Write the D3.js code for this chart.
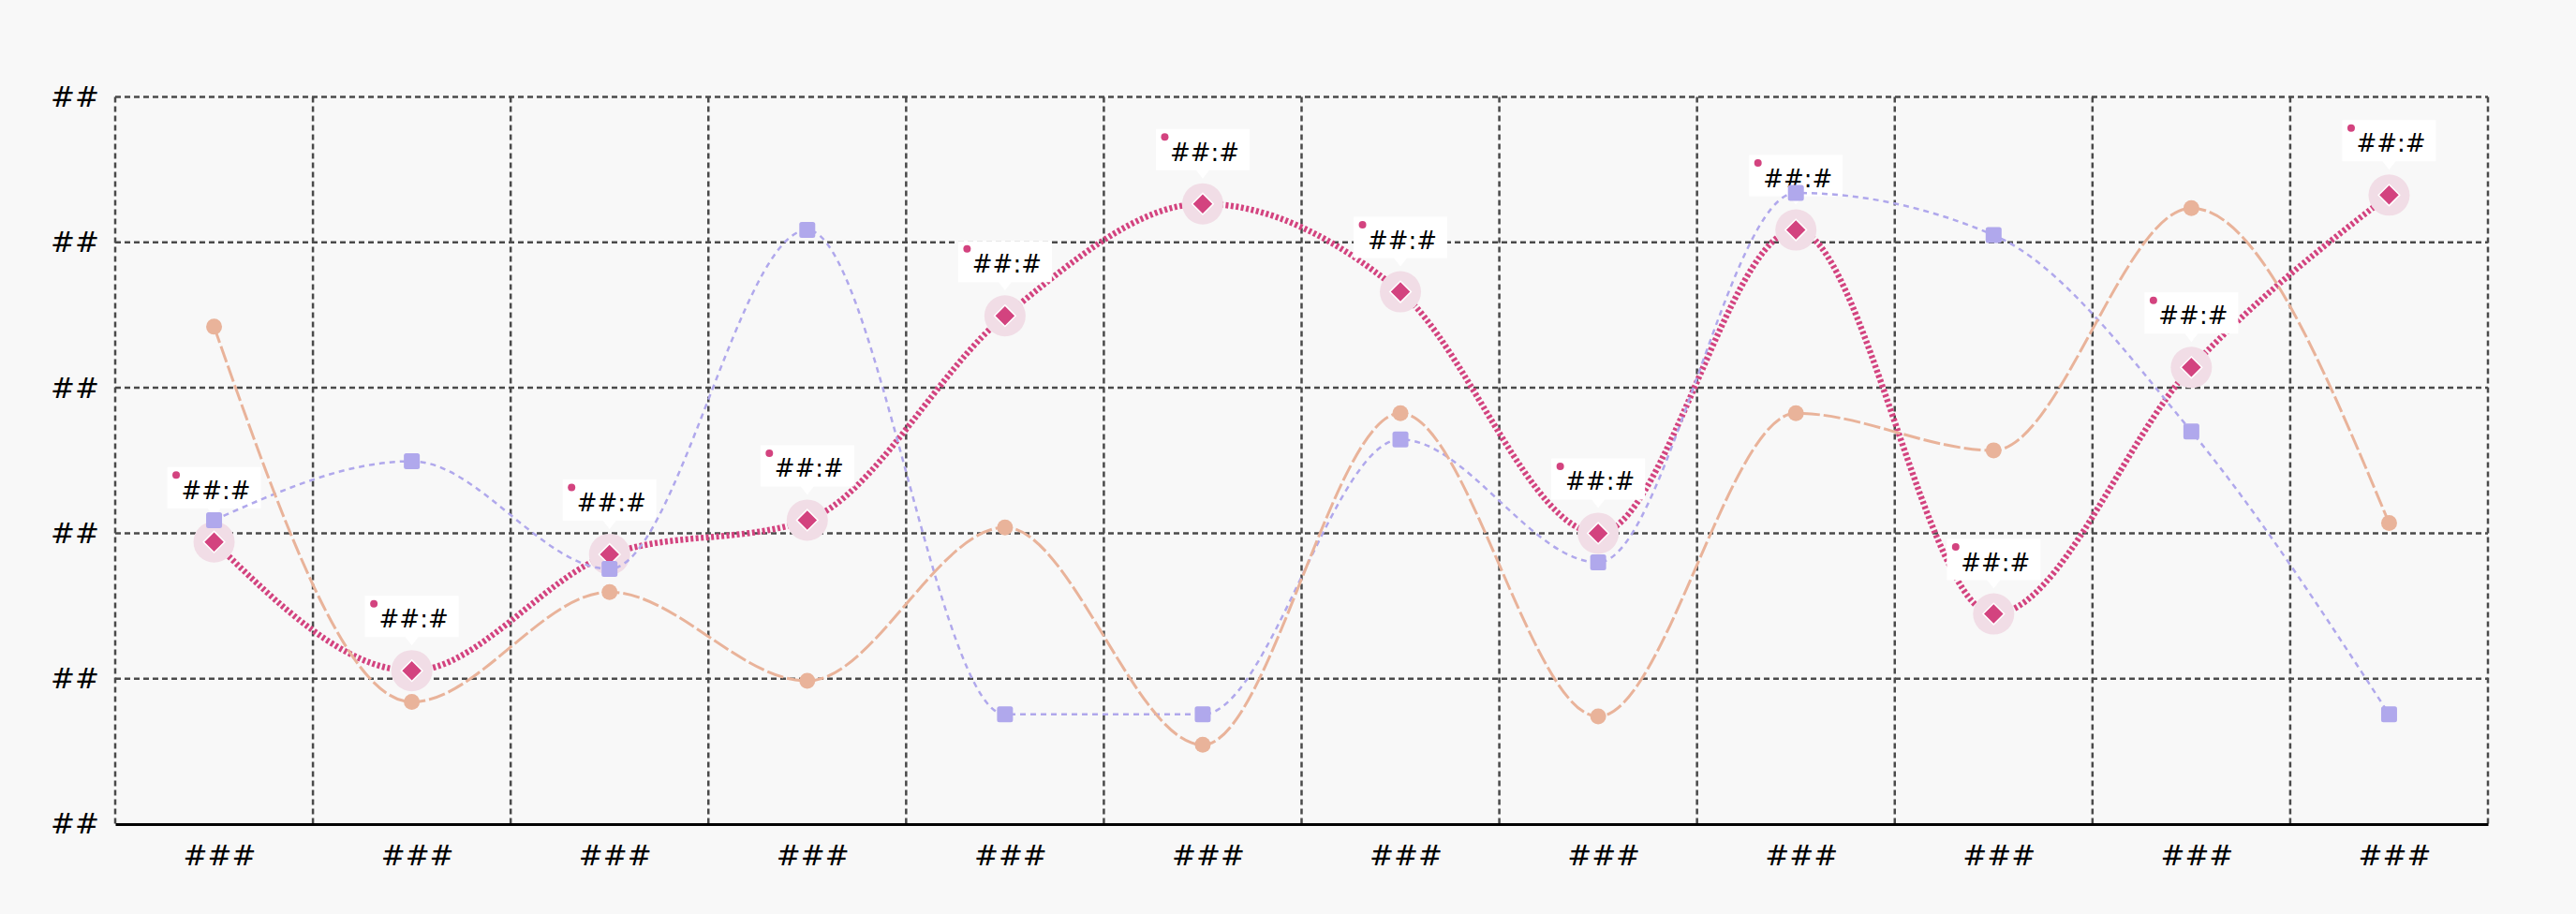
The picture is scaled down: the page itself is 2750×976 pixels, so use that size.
<!DOCTYPE html>
<html>
<head>
<meta charset="utf-8">
<script src="https://cdn.jsdelivr.net/npm/d3@7"></script>
<style>
  html, body { margin: 0; padding: 0; background: #f8f8f8; }
  svg { display: block; font-family: "DejaVu Sans", sans-serif; }
</style>
</head>
<body>
<div id="chart"></div>
<script>
// Chart data
const categories = ["###", "###", "###", "###", "###", "###", "###", "###", "###", "###", "###", "###"];
const seriesOrange = [68.4, 16.8, 31.9, 19.7, 40.8, 10.9, 56.5, 14.8, 56.5, 51.4, 84.7, 41.4];
const seriesPurple = [41.8, 49.9, 35.1, 81.7, 15.1, 15.1, 52.9, 36.0, 86.8, 81.0, 54.0, 15.1];
const seriesPink = [38.8, 21.1, 37.1, 41.8, 69.9, 85.3, 73.2, 40.0, 81.7, 28.9, 62.8, 86.5];
const pinkLabels = ["##:#", "##:#", "##:#", "##:#", "##:#", "##:#", "##:#", "##:#", "##:#", "##:#", "##:#", "##:#"];
const yTicks = [0, 20, 40, 60, 80, 100];
const yTickLabels = ["##", "##", "##", "##", "##", "##"];

// Set the chart size
const width = 2750, height = 976, margin = { top: 103.5, right: 94, bottom: 96, left: 123 };
const innerW = width - margin.left - margin.right;
const innerH = height - margin.top - margin.bottom;

const svg = d3.select("#chart")
    .append("svg")
    .attr("width", width)
    .attr("height", height);

svg.append("rect").attr("width", width).attr("height", height).attr("fill", "#f8f8f8");

const g = svg.append("g")
    .attr("transform", `translate(${margin.left}, ${margin.top})`);

// Scales
const xScale = d3.scaleBand()
    .domain(d3.range(categories.length))
    .range([0, innerW]);

const yScale = d3.scaleLinear()
    .domain([0, 100])
    .range([innerH, 0]);

const cx = i => xScale(i) + xScale.bandwidth() / 2;

// Grid lines
const gridColor = "#4a4a4a";
g.append("g")
    .selectAll("line")
    .data(yTicks.slice(1))
    .join("line")
    .attr("x1", 0).attr("x2", innerW)
    .attr("y1", d => yScale(d)).attr("y2", d => yScale(d))
    .attr("stroke", gridColor).attr("stroke-width", 2.5)
    .attr("stroke-dasharray", "6,4");

g.append("g")
    .selectAll("line")
    .data(d3.range(categories.length + 1))
    .join("line")
    .attr("x1", d => d < categories.length ? xScale(d) : innerW)
    .attr("x2", d => d < categories.length ? xScale(d) : innerW)
    .attr("y1", 0).attr("y2", innerH)
    .attr("stroke", gridColor).attr("stroke-width", 2.5)
    .attr("stroke-dasharray", "6,4");

// Y axis labels
const yAxis = g.append("g")
    .call(d3.axisLeft(yScale).tickValues(yTicks).tickSize(0).tickPadding(17)
        .tickFormat((d, i) => yTickLabels[i]));
yAxis.select(".domain").remove();
yAxis.selectAll("text").attr("font-size", 31).attr("fill", "#000")
    .attr("font-family", "DejaVu Sans");

// X axis
const xAxis = g.append("g")
    .attr("transform", `translate(0, ${innerH})`)
    .call(d3.axisBottom(xScale).tickSize(0).tickPadding(22)
        .tickFormat(i => categories[i]));
xAxis.select(".domain").attr("stroke", "#000").attr("stroke-width", 3);
xAxis.selectAll("text").attr("font-size", 31).attr("fill", "#000")
    .attr("dx", 6)
    .attr("font-family", "DejaVu Sans");

const lineFor = values => d3.line()
    .x((d, i) => cx(i))
    .y(d => yScale(d))
    .curve(d3.curveMonotoneX)(values);

// Pink series (line, halos, diamonds, labels)
const pink = "#d3437f";
g.append("path")
    .attr("d", lineFor(seriesPink))
    .attr("fill", "none")
    .attr("stroke", pink)
    .attr("stroke-width", 6.5)
    .attr("stroke-dasharray", "3,2.5");

g.append("g")
    .selectAll("circle")
    .data(seriesPink)
    .join("circle")
    .attr("cx", (d, i) => cx(i))
    .attr("cy", d => yScale(d))
    .attr("r", 22)
    .attr("fill", "#f1dde6");

g.append("g")
    .selectAll("path")
    .data(seriesPink)
    .join("path")
    .attr("transform", (d, i) => `translate(${cx(i)}, ${yScale(d)}) rotate(45)`)
    .attr("d", "M-8,-8H8V8H-8Z")
    .attr("fill", pink)
    .attr("stroke", "#fff")
    .attr("stroke-width", 1.5);

const labels = g.append("g")
    .selectAll("g")
    .data(seriesPink)
    .join("g")
    .attr("transform", (d, i) => `translate(${cx(i)}, ${yScale(d)})`);

labels.append("path")
    .attr("d", "M-50,-80H50V-36H7L0,-27L-7,-36H-50Z")
    .attr("fill", "#fff");

labels.append("circle")
    .attr("cx", -40.5).attr("cy", -71.5).attr("r", 4)
    .attr("fill", pink);

labels.append("text")
    .attr("x", 2).attr("y", -46)
    .attr("text-anchor", "middle")
    .attr("font-size", 26)
    .attr("fill", "#000")
    .text((d, i) => pinkLabels[i]);

// Purple series
const purple = "#b0a8ec";
g.append("path")
    .attr("d", lineFor(seriesPurple))
    .attr("fill", "none")
    .attr("stroke", purple)
    .attr("stroke-width", 2.5)
    .attr("stroke-dasharray", "6,5");

g.append("g")
    .selectAll("rect")
    .data(seriesPurple)
    .join("rect")
    .attr("x", (d, i) => cx(i) - 8.5)
    .attr("y", d => yScale(d) - 8.5)
    .attr("width", 17).attr("height", 17)
    .attr("rx", 2.5)
    .attr("fill", purple);

// Orange series
const orange = "#e9b39a";
g.append("path")
    .attr("d", lineFor(seriesOrange))
    .attr("fill", "none")
    .attr("stroke", orange)
    .attr("stroke-width", 3)
    .attr("stroke-dasharray", "18,4");

g.append("g")
    .selectAll("circle")
    .data(seriesOrange)
    .join("circle")
    .attr("cx", (d, i) => cx(i))
    .attr("cy", d => yScale(d))
    .attr("r", 8.5)
    .attr("fill", orange);
</script>
</body>
</html>
